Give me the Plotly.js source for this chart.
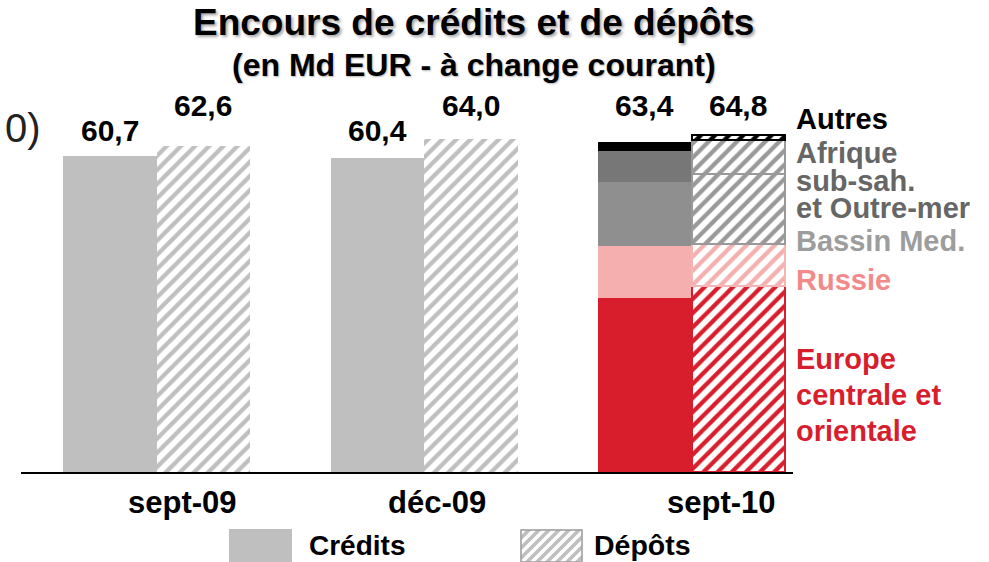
<!DOCTYPE html>
<html>
<head>
<meta charset="utf-8">
<script src="https://cdn.plot.ly/plotly-3.0.1.min.js"></script>
<style>html,body{margin:0;padding:0;background:#fff;}#chart{width:989px;height:562px;}</style>
</head>
<body>
<div id="chart"></div>
<script>
// ---- data ----
const categories = ['sept-09', 'déc-09', 'sept-10'];
const creditsTotal = [60.7, 60.4, 63.4];
const depotsTotal = [62.6, 64.0, 64.8];
const regions = ['Europe centrale et orientale', 'Russie', 'Bassin Med.', 'Afrique sub-sah. et Outre-mer', 'Autres'];
const creditsSept10 = [33.5, 9.9, 12.3, 6.0, 1.7];
const depotsSept10 = [35.7, 8.1, 13.6, 6.4, 1.0];
const regionLabelLines = [
  ['Europe', 'centrale et', 'orientale'],
  ['Russie'],
  ['Bassin Med.'],
  ['Afrique', 'sub-sah.', 'et Outre-mer'],
  ['Autres']
];
const seriesNames = ['Crédits', 'Dépôts'];

// ---- styles ----
const W = 989, H = 562;
const M = {l: 21, r: 196, t: 108, b: 90};
const PW = W - M.l - M.r, PH = H - M.t - M.b;
const px2x = px => (px - M.l) / PW;
const py2y = py => (H - M.b - py) / PH;
const FONT = 'Liberation Sans, Arial, sans-serif';
const OFF = 0.175, BW = 0.35;
const GREY = '#bfbfbf';
const segFill = ['#d81e2c', '#f5afaf', '#8f8f8f', '#777777', '#000000'];
const segHatch = ['#d81e2c', '#f5afaf', '#999999', '#999999', '#000000'];
const segLine = ['#d81e2c', '#f5b5b5', '#999999', '#999999', '#000000'];
const labelColors = ['#d81e2c', '#f28a8a', '#9d9d9d', '#666666', '#000000'];
const labelCenterPx = [395, 280, 241, 180, 119];   // vertical centre of each label block
const labelLineGap = [36, 36, 36, 27.5, 36];       // line spacing of each block (px)
const LABEL_SIZE = 29;
const valueLabelPx = [[130.5, 105.5], [130.5, 105.5], [105.5, 105.5]];
const catLabelShift = [26, 13, 30];

const hatch = c => ({shape: '/', fgcolor: c, bgcolor: 'white', size: 10, solidity: 0.42});

const traces = [];
const earlyIdx = [0, 1];
traces.push({
  type: 'bar', name: seriesNames[0], showlegend: false, hoverinfo: 'skip',
  x: earlyIdx.map(i => i - OFF), y: earlyIdx.map(i => creditsTotal[i]), width: BW,
  marker: {color: GREY, line: {width: 0}}
});
traces.push({
  type: 'bar', name: seriesNames[1], showlegend: false, hoverinfo: 'skip',
  x: earlyIdx.map(i => i + OFF), y: earlyIdx.map(i => depotsTotal[i]), width: BW,
  marker: {color: GREY, pattern: hatch(GREY), line: {width: 0}}
});
regions.forEach((r, k) => {
  traces.push({
    type: 'bar', name: r + ' - crédits', showlegend: false, hoverinfo: 'skip',
    x: [2 - OFF], y: [creditsSept10[k]], width: BW,
    marker: {color: segFill[k], line: {width: 0}}
  });
});
regions.forEach((r, k) => {
  traces.push({
    type: 'bar', name: r + ' - dépôts', showlegend: false, hoverinfo: 'skip',
    x: [2 + OFF], y: [depotsSept10[k]], width: BW,
    marker: {color: segHatch[k], pattern: hatch(segHatch[k]), line: {width: 2, color: segLine[k]}}
  });
});

const fmt = v => v.toFixed(1).replace('.', ',');
const ann = [];
// title
ann.push({text: 'Encours de crédits et de dépôts', xref: 'paper', yref: 'paper', x: px2x(473), y: py2y(23),
  xanchor: 'center', yanchor: 'middle', showarrow: false,
  font: {family: FONT, size: 37, weight: 700, color: '#000', shadow: '2px 2px 3px rgba(0,0,0,0.35)'}});
ann.push({text: '(en Md EUR - à change courant)', xref: 'paper', yref: 'paper', x: px2x(474), y: py2y(65),
  xanchor: 'center', yanchor: 'middle', showarrow: false,
  font: {family: FONT, size: 32, weight: 700, color: '#000', shadow: '1px 1px 2px rgba(0,0,0,0.3)'}});
// cropped axis note
ann.push({text: '0)', xref: 'paper', yref: 'paper', x: px2x(3), y: py2y(128), xanchor: 'left', yanchor: 'middle',
  showarrow: false, font: {family: FONT, size: 40, color: '#222'}});
// value labels and category labels
categories.forEach((c, i) => {
  [creditsTotal[i], depotsTotal[i]].forEach((v, s) => {
    ann.push({text: fmt(v), xref: 'x', yref: 'paper', x: i + (s === 0 ? -OFF : OFF), y: py2y(valueLabelPx[i][s]),
      xanchor: 'center', yanchor: 'middle', showarrow: false,
      font: {family: FONT, size: 30, weight: 700, color: '#000'}});
  });
  ann.push({text: c, xref: 'x', yref: 'paper', x: i, xshift: catLabelShift[i], y: py2y(502),
    xanchor: 'center', yanchor: 'middle', showarrow: false,
    font: {family: FONT, size: 31, weight: 700, color: '#000'}});
});
// region labels: one annotation per block; line spacing set by base font size, glyph size by span
regionLabelLines.forEach((lines, k) => {
  const base = labelLineGap[k] / 1.3;
  const txt = lines.map(t => '<span style="font-size:' + LABEL_SIZE + 'px">' + t + '</span>').join('<br>');
  ann.push({text: txt, xref: 'paper', yref: 'paper', x: px2x(794), y: py2y(labelCenterPx[k]),
    xanchor: 'left', yanchor: 'middle', align: 'left', showarrow: false,
    font: {family: FONT, size: base, weight: 700, color: labelColors[k]}});
});
// legend texts
ann.push({text: seriesNames[0], xref: 'paper', yref: 'paper', x: px2x(307), y: py2y(545), xanchor: 'left', yanchor: 'middle',
  showarrow: false, font: {family: FONT, size: 28, weight: 700, color: '#000'}});
ann.push({text: seriesNames[1], xref: 'paper', yref: 'paper', x: px2x(592), y: py2y(545), xanchor: 'left', yanchor: 'middle',
  showarrow: false, font: {family: FONT, size: 28.5, weight: 700, color: '#000'}});

const hatchSvg = "<svg xmlns='http://www.w3.org/2000/svg' width='63' height='34' viewBox='0 0 63 34'>" +
  "<defs><pattern id='p' width='10' height='10' patternUnits='userSpaceOnUse'>" +
  "<path d='M-2,2 L2,-2 M0,10 L10,0 M8,12 L12,8' stroke='#bfbfbf' stroke-width='3.6'/></pattern></defs>" +
  "<rect x='1' y='1' width='61' height='32' fill='white'/>" +
  "<rect x='1' y='1' width='61' height='32' fill='url(#p)' stroke='#a0a0a0' stroke-width='1.6'/></svg>";

const layout = {
  width: W, height: H,
  margin: M,
  paper_bgcolor: '#fff', plot_bgcolor: '#fff',
  barmode: 'stack',
  showlegend: false,
  xaxis: {range: [-0.507, 2.379], showline: true, linecolor: '#000', linewidth: 2, showgrid: false,
    zeroline: false, showticklabels: false, ticks: '', fixedrange: true},
  yaxis: {range: [0, 70], visible: false, fixedrange: true},
  annotations: ann,
  shapes: [{type: 'rect', xref: 'paper', yref: 'paper', x0: px2x(229), x1: px2x(292), y0: py2y(529), y1: py2y(563),
    fillcolor: GREY, line: {width: 0}}],
  images: [{source: 'data:image/svg+xml;charset=utf-8,' + encodeURIComponent(hatchSvg),
    xref: 'paper', yref: 'paper', x: px2x(520), y: py2y(529), sizex: 63 / PW, sizey: 34 / PH,
    xanchor: 'left', yanchor: 'top', sizing: 'stretch', layer: 'above'}]
};

Plotly.newPlot('chart', traces, layout, {displayModeBar: false, staticPlot: true});
</script>
</body>
</html>
